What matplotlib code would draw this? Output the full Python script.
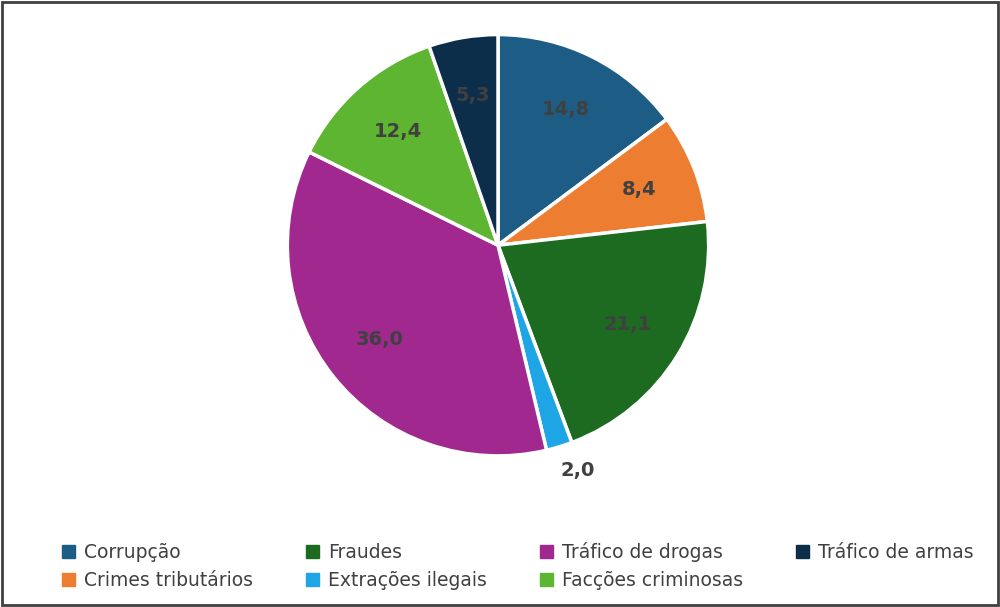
import matplotlib
matplotlib.use("Agg")
import matplotlib.pyplot as plt
import numpy as np

categories = ["Corrupção", "Crimes tributários", "Fraudes", "Extrações ilegais",
              "Tráfico de drogas", "Facções criminosas", "Tráfico de armas"]
values = [14.8, 8.4, 21.1, 2.0, 36.0, 12.4, 5.3]
colors = ["#1d5d85", "#ed7d31", "#1c6b21", "#1ea5e6", "#a0288f", "#5db532", "#0c2e4b"]

fig = plt.figure(figsize=(10, 6.07), dpi=100)
fig.patch.set_facecolor("white")
ax = fig.add_axes([0.283, 0.242, 0.43, 0.708])
wedges, _ = ax.pie(values, colors=colors, startangle=90, counterclock=False,
                   wedgeprops=dict(edgecolor="white", linewidth=2.5))
ax.set_aspect("equal")
ax.set_xlim(-1.02, 1.02); ax.set_ylim(-1.02, 1.02)
for w, v in zip(wedges, values):
    ang = np.deg2rad((w.theta1 + w.theta2) / 2)
    r = 1.12 if v < 3 else 0.72
    ax.text(r * np.cos(ang) + (0.05 if v < 3 else 0), r * np.sin(ang), f"{v:.1f}".replace(".", ","),
            ha="center", va="center", fontsize=14, fontweight="bold", color="#404040")

handles = [plt.Rectangle((0, 0), 1, 1, color=c) for c in colors]
fig.legend(handles, categories, loc="lower left", bbox_to_anchor=(0.045, 0.0),
           ncol=4, frameon=False, fontsize=13.5, handlelength=0.7, handleheight=0.7,
           columnspacing=2.8, labelcolor="#404040", handletextpad=0.5)
fig.add_artist(plt.Rectangle((0.002, 0.003), 0.996, 0.994, transform=fig.transFigure,
                             fill=False, edgecolor="#404040", linewidth=2))
fig.savefig("out.png", dpi=100)
